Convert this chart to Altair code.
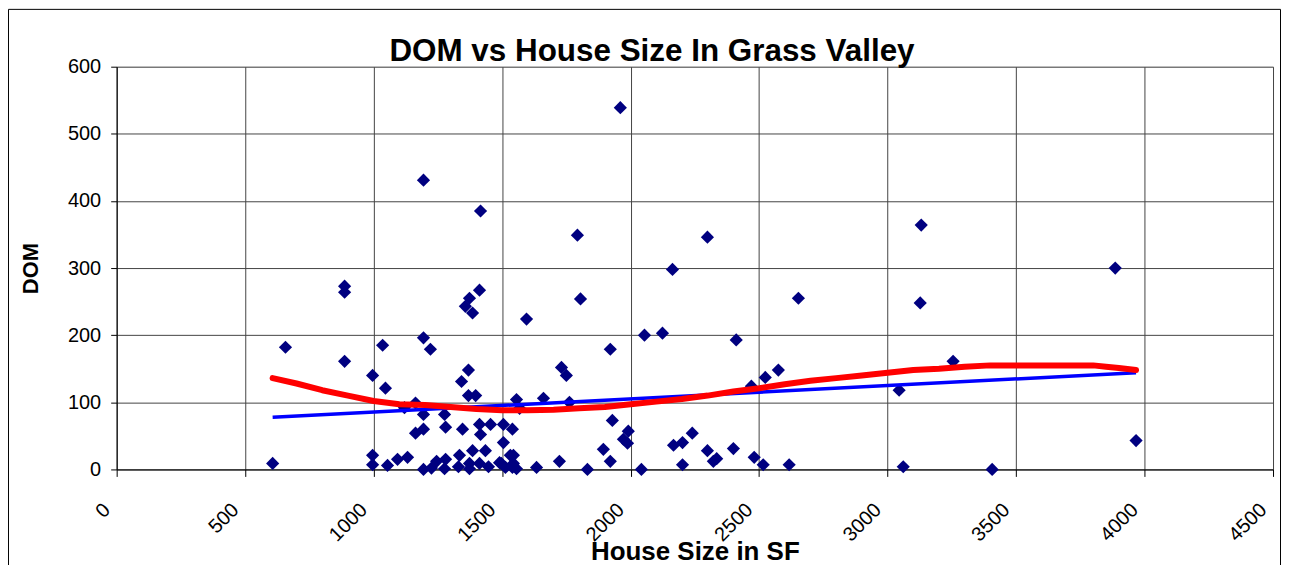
import altair as alt
import pandas as pd

# Scatter points (house size in SF, days on market)
house_sf = [607, 657, 887, 887, 887, 996, 996, 996, 1035, 1046,
            1054, 1093, 1132, 1120, 1163, 1194, 1163, 1194, 1280, 1276,
            1346, 1194, 1225, 1245, 1280, 1276, 1334, 1330, 1373, 1385,
            1373, 1412, 1435, 1416, 1369, 1397, 1342, 1369, 1412, 1455,
            1505, 1540, 1556, 1568, 1661, 1505, 1447, 1490, 1544, 1540,
            1513, 1556, 1544, 1634, 1723, 1412, 1373, 1357, 1385, 1595,
            1194, 1221, 1194, 1416, 1960, 1793, 2299, 2163, 1805, 2653,
            2054, 2124, 2411, 1921, 1731, 1750, 2524, 2575, 3131, 3886,
            3127, 3255, 3045, 3967, 3061, 3407, 1762, 1929, 1991, 1972,
            1988, 1894, 1921, 1832, 2042, 2167, 2202, 2240, 2202, 2299,
            2322, 2335, 2470, 2400, 2481, 2516, 2617, 1497, 1532]
dom = [9, 182, 273, 264, 161, 140, 21, 7, 185, 121,
       6, 15, 18, 92, 99, 82, 54, 60, 63, 82,
       60, 0, 2, 12, 15, 1, 21, 4, 1, 28,
       9, 9, 28, 52, 110, 110, 131, 148, 67, 67,
       67, 60, 104, 91, 106, 40, 4, 10, 21, 3,
       3, 1, 9, 3, 12, 267, 255, 243, 233, 224,
       196, 179, 431, 385, 539, 349, 346, 298, 254, 255,
       200, 203, 193, 179, 152, 140, 137, 148, 364, 300,
       248, 161, 118, 43, 4, 0, 100, 73, 57, 45,
       39, 30, 12, 0, 0, 36, 40, 54, 7, 28,
       12, 16, 124, 31, 18, 7, 7, 9, 21]

# Linear trend line (blue) end points
trend_sf = [607, 3967]
trend_dom = [77.6, 144]

# Smoothed trend (red)
smooth_sf = [607, 700, 800, 900, 1000, 1100, 1200, 1300, 1400, 1500, 1600,
             1700, 1800, 1900, 2000, 2100, 2200, 2300, 2400, 2500, 2600,
             2700, 2800, 2900, 3000, 3100, 3200, 3300, 3400, 3500, 3600,
             3700, 3800, 3850, 3900, 3967]
smooth_dom = [136, 128, 118, 110, 102, 97, 96, 93, 90, 88, 88,
              89, 91, 93, 97, 101, 105, 110, 116, 121, 127,
              132, 136, 140, 144, 148, 150, 153, 155, 155, 155,
              155, 155, 153, 151, 148]

x_ticks = [0, 500, 1000, 1500, 2000, 2500, 3000, 3500, 4000, 4500]
y_ticks = [0, 100, 200, 300, 400, 500, 600]
chart_title = ["DOM vs House Size In Grass Valley"]

FONT = "Liberation Sans"
W, H = 1160, 404

pts = pd.DataFrame({"sf": house_sf, "dom": dom})
trend = pd.DataFrame({"sf": trend_sf, "dom": trend_dom})
smooth = pd.DataFrame({"sf": smooth_sf, "dom": smooth_dom})

xs = alt.Scale(domain=[0, 4500], nice=False, zero=False)
ys = alt.Scale(domain=[0, 600], nice=False, zero=False)

x_axis = alt.Axis(
    title="House Size in SF", values=x_ticks, format="d",
    labelAngle=-45, labelAlign="right", labelBaseline="middle",
    labelFont=FONT, labelFontSize=20, labelColor="black",
    labelPadding=30, labelOffset=-10,
    tickSize=7, tickColor="black", domainColor="black",
    grid=True, gridColor="#444", gridWidth=1,
    titleFont=FONT, titleFontSize=26, titleFontWeight="bold", titleColor="black",
    titleY=90, titleBaseline="alphabetic",
)
y_axis = alt.Axis(
    title="DOM", values=y_ticks, format="d",
    labelFont=FONT, labelFontSize=20, labelColor="black", labelPadding=10,
    tickSize=6, tickColor="black", domainColor="black",
    grid=True, gridColor="#444", gridWidth=1,
    titleFont=FONT, titleFontSize=22, titleFontWeight="bold", titleColor="black",
    titleX=-74, titleY=H / 2, titleAlign="center", titleBaseline="bottom", titleAngle=-90,
)

points = alt.Chart(pts).mark_point(
    shape="diamond", filled=True, color="#000080", size=175, opacity=1
).encode(
    x=alt.X("sf:Q", scale=xs, axis=x_axis),
    y=alt.Y("dom:Q", scale=ys, axis=y_axis),
)

blue = alt.Chart(trend).mark_line(color="#0000ff", strokeWidth=3.5).encode(
    x=alt.X("sf:Q", scale=xs), y=alt.Y("dom:Q", scale=ys)
)

red = alt.Chart(smooth).mark_line(color="#ff0000", strokeWidth=6, strokeCap="round",
                                  strokeJoin="round").encode(
    x=alt.X("sf:Q", scale=xs), y=alt.Y("dom:Q", scale=ys)
)

border = alt.Chart(pd.DataFrame({"a": [0]})).mark_rect(
    fill="white", fillOpacity=0, stroke="black", strokeWidth=1
).encode(
    x=alt.value(-108.5), x2=alt.value(W + 7.5),
    y=alt.value(-57.5), y2=alt.value(H + 120),
)

title = alt.Chart(pd.DataFrame({"t": chart_title})).mark_text(
    font=FONT, fontSize=31.5, fontWeight="bold", color="black",
    align="center", baseline="alphabetic"
).encode(
    text="t:N", x=alt.value(537), y=alt.value(-6),
)

chart = alt.layer(points, blue, red, border, title).properties(
    width=W, height=H,
    autosize=alt.AutoSizeParams(type="none"),
    padding={"left": 109, "top": 58, "right": 8, "bottom": 95},
).configure_view(stroke=None).configure(background="white")

chart.save("out.html", embed_options={"renderer": "svg", "actions": False})
